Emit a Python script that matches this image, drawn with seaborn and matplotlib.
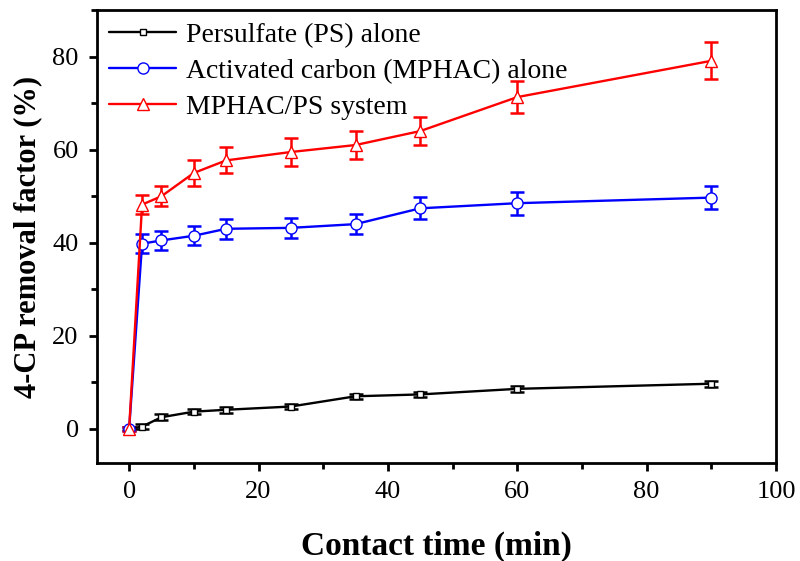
import numpy as np
import pandas as pd
import matplotlib.pyplot as plt
import seaborn as sns
from matplotlib.ticker import MultipleLocator

# время контакта (мин)
time = [0, 2, 5, 10, 15, 25, 35, 45, 60, 90]

ps_alone = [0, 0.5, 2.5, 3.7, 4.1, 4.8, 7.0, 7.4, 8.6, 9.7]
ps_err = [0.3, 0.5, 0.6, 0.6, 0.6, 0.5, 0.5, 0.6, 0.6, 0.6]

ac_alone = [0, 39.8, 40.5, 41.5, 43.0, 43.2, 44.0, 47.4, 48.5, 49.7]
ac_err = [0.5, 2.0, 2.0, 2.0, 2.2, 2.2, 2.2, 2.4, 2.5, 2.5]

mix = [0, 48.2, 50.0, 55.0, 57.7, 59.5, 61.0, 64.0, 71.3, 79.1]
mix_err = [0.5, 2.0, 2.2, 2.8, 2.8, 3.0, 3.0, 3.0, 3.5, 4.0]

labels = ['Persulfate (PS) alone', 'Activated carbon (MPHAC) alone', 'MPHAC/PS system']
colors = ['black', 'blue', 'red']
markers = ['s', 'o', '^']
msizes = [5, 8, 9]

sns.set_style('ticks')
plt.rcParams['font.family'] = ['Liberation Serif', 'DejaVu Serif']
plt.rcParams.update({'text.color': 'black', 'axes.labelcolor': 'black',
                     'axes.edgecolor': 'black', 'xtick.color': 'black',
                     'ytick.color': 'black'})

fig, ax = plt.subplots(figsize=(8, 5.61), dpi=100)
fig.subplots_adjust(left=0.121, right=0.97, top=0.982, bottom=0.175)

series = [(ps_alone, ps_err), (ac_alone, ac_err), (mix, mix_err)]
for (vals, errs), lab, c, m, ms in zip(series, labels, colors, markers, msizes):
    df = pd.DataFrame({'t': time, 'v': vals})
    ax.errorbar(time, vals, yerr=errs, fmt='none', ecolor=c, elinewidth=1.8,
                capsize=5, capthick=1.8, zorder=2)
    sns.lineplot(data=df, x='t', y='v', ax=ax, color=c, marker=m, markersize=ms,
                 markerfacecolor='white', markeredgecolor=c, markeredgewidth=1.0,
                 linewidth=1.7, label=lab, zorder=3)

ax.set_xlim(-5, 100)
ax.set_ylim(-7.3, 90)
ax.xaxis.set_major_locator(MultipleLocator(20))
ax.xaxis.set_minor_locator(MultipleLocator(10))
ax.yaxis.set_major_locator(MultipleLocator(20))
ax.yaxis.set_minor_locator(MultipleLocator(10))
ax.tick_params(which='major', direction='out', length=6, width=2, labelsize=19, pad=7)
ax.tick_params(which='minor', direction='out', length=4, width=2)
for s in ax.spines.values():
    s.set_linewidth(2)
    s.set_color('black')

ax.set_xlabel('Contact time (min)', fontsize=24, fontweight='bold', labelpad=20)
ax.set_ylabel('4-CP removal factor (%)', fontsize=22, fontweight='bold', labelpad=7)

ax.legend(loc='upper left', frameon=False, fontsize=20, handlelength=2.4,
          handletextpad=0.35, labelspacing=0.38, borderaxespad=0.0, borderpad=0.45)

fig.savefig('out.png', dpi=100)
